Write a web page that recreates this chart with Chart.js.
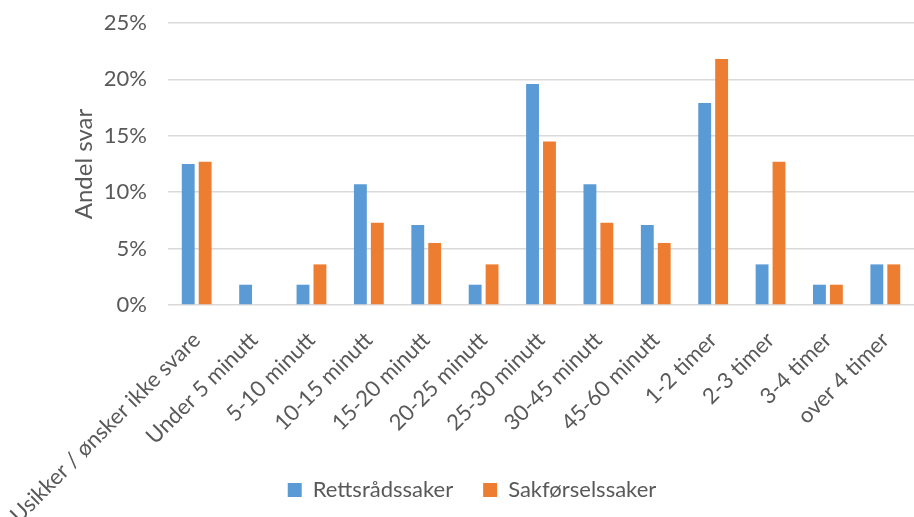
<!DOCTYPE html>
<html>
<head>
<meta charset="utf-8">
<script src="https://cdn.jsdelivr.net/npm/chart.js@4"></script>
<style>
  html, body { margin: 0; padding: 0; background: #fff; }
  #wrap { width: 914px; height: 517px; }
</style>
</head>
<body>
<div id="wrap"><canvas id="tidCanvas"></canvas></div>
<script>
// kategorier (tidsbruk)
const kategorier = ['Usikker / ønsker ikke svare', 'Under 5 minutt', '5-10 minutt', '10-15 minutt',
  '15-20 minutt', '20-25 minutt', '25-30 minutt', '30-45 minutt', '45-60 minutt',
  '1-2 timer', '2-3 timer', '3-4 timer', 'over 4 timer'];

// andel svar i prosent
const rettsradssaker = [12.5, 1.8, 1.8, 10.7, 7.1, 1.8, 19.6, 10.7, 7.1, 17.9, 3.6, 1.8, 3.6];
const sakforselssaker = [12.7, 0, 3.6, 7.3, 5.5, 3.6, 14.5, 7.3, 5.5, 21.8, 12.7, 1.8, 3.6];

const yTicks = [0, 5, 10, 15, 20, 25];

const tekstFarge = '#595959';
const fontNavn = 'Lato, "Open Sans", sans-serif';

const ctx = document.getElementById('tidCanvas').getContext('2d');

const data = {
    labels: kategorier,
    datasets: [
        {
            label: 'Rettsrådssaker',
            data: rettsradssaker,
            backgroundColor: '#5B9BD5',
        },
        {
            label: 'Sakførselssaker',
            data: sakforselssaker,
            backgroundColor: '#ED7D31',
        },
    ],
};

const config = {
    type: 'bar',
    data: data,
    options: {
        responsive: true,
        maintainAspectRatio: false,
        animation: false,
        datasets: {
            bar: { categoryPercentage: 0.59, barPercentage: 0.76 }
        },
        layout: { padding: { left: 30, right: 0, top: 23, bottom: 6 } },
        plugins: {
            tooltip: { enabled: false },
            legend: {
                position: 'bottom',
                labels: {
                    color: tekstFarge,
                    font: { family: fontNavn, size: 22 },
                    boxWidth: 14,
                    boxHeight: 14,
                    padding: 30,
                },
            },
        },
        scales: {
            x: {
                grid: { display: false, drawTicks: false },
                border: { display: false },
                ticks: {
                    color: tekstFarge,
                    font: { family: fontNavn, size: 22 },
                    autoSkip: false,
                    minRotation: 45,
                    maxRotation: 45,
                    padding: 22,
                },
                afterFit: function (scale) {
                    scale.height = 144;
                    scale.paddingLeft = 0;
                    scale.paddingRight = 0;
                    // lange etiketter skal kunne gå ned forbi aksen (som i Excel)
                    scale._computeLabelArea = function () { return undefined; };
                },
            },
            y: {
                min: 0,
                max: 25,
                grid: { color: '#d9d9d9', lineWidth: 1.5, drawTicks: false },
                border: { display: false },
                afterBuildTicks: function (scale) {
                    scale.ticks = yTicks.map(v => ({ value: v }));
                },
                ticks: {
                    color: tekstFarge,
                    font: { family: fontNavn, size: 22 },
                    padding: 21,
                    callback: function (value) {
                        return value + '%';
                    },
                },
                title: {
                    display: true,
                    text: 'Andel svar',
                    color: tekstFarge,
                    font: { family: fontNavn, size: 24 },
                    padding: { top: 40, bottom: 0 },
                },
                afterFit: function (scale) {
                    scale.width = 138;
                    scale.paddingTop = 0;
                    scale.paddingBottom = 0;
                },
            },
        },
    },
};

const myChart = new Chart(ctx, config);
</script>
</body>
</html>
